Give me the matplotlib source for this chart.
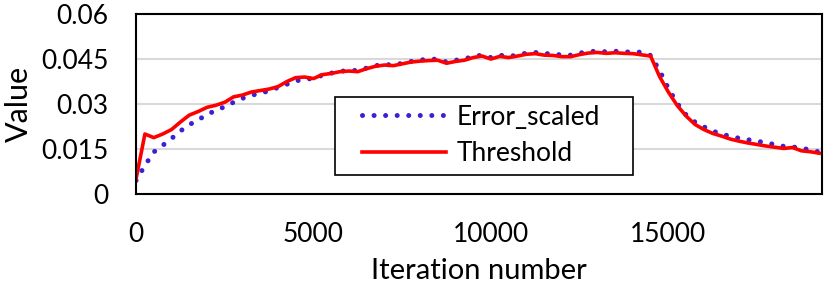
import numpy as np
import matplotlib
matplotlib.use('Agg')
import matplotlib.pyplot as plt
from matplotlib.patches import Rectangle

# iteration numbers (every 250)
iterations = np.arange(0, 19251, 250)

error_scaled = [
  0.0045, 0.0095, 0.0140, 0.0162, 0.0185, 0.0210, 0.0231, 0.0247, 0.0265, 0.0279,
  0.0291, 0.0306, 0.0319, 0.0329, 0.0336, 0.0344, 0.0355, 0.0366, 0.0377, 0.0383,
  0.0385, 0.0396, 0.0403, 0.0409, 0.0412, 0.0412, 0.0420, 0.0428, 0.0432, 0.0430,
  0.0436, 0.0442, 0.0447, 0.0449, 0.0450, 0.0440, 0.0446, 0.0450, 0.0459, 0.0463,
  0.0455, 0.0463, 0.0459, 0.0463, 0.0470, 0.0472, 0.0468, 0.0468, 0.0463, 0.0463,
  0.0470, 0.0474, 0.0477, 0.0474, 0.0476, 0.0474, 0.0473, 0.0473, 0.0462, 0.0412,
  0.0352, 0.0302, 0.0264, 0.0240, 0.0224, 0.0210, 0.0200, 0.0192, 0.0186, 0.0181,
  0.0176, 0.0171, 0.0165, 0.0159, 0.0157, 0.0153, 0.0147, 0.0140,
]

threshold = [
  0.0050, 0.0200, 0.0188, 0.0200, 0.0215, 0.0240, 0.0263, 0.0275, 0.0289, 0.0296,
  0.0306, 0.0324, 0.0330, 0.0340, 0.0345, 0.0350, 0.0358, 0.0375, 0.0388, 0.0390,
  0.0385, 0.0398, 0.0402, 0.0408, 0.0410, 0.0408, 0.0418, 0.0426, 0.0430, 0.0428,
  0.0434, 0.0440, 0.0443, 0.0445, 0.0446, 0.0436, 0.0442, 0.0446, 0.0455, 0.0460,
  0.0450, 0.0459, 0.0455, 0.0460, 0.0466, 0.0468, 0.0463, 0.0462, 0.0458, 0.0458,
  0.0465, 0.0470, 0.0472, 0.0469, 0.0471, 0.0469, 0.0468, 0.0464, 0.0460, 0.0392,
  0.0340, 0.0295, 0.0260, 0.0232, 0.0215, 0.0202, 0.0193, 0.0183, 0.0176, 0.0170,
  0.0165, 0.0160, 0.0156, 0.0152, 0.0155, 0.0144, 0.0141, 0.0136,
]

y_ticks = [0, 0.015, 0.03, 0.045, 0.06]
y_ticklabels = ['0', '0.015', '0.03', '0.045', '0.06']
x_ticks = [0, 5000, 10000, 15000]

plt.rcParams['font.family'] = ['Lato', 'DejaVu Sans']

fig = plt.figure(figsize = (8.3, 2.87), dpi = 100)
ax = fig.add_axes([0.1639, 0.324, 0.8265, 0.627])

ax.plot(iterations, error_scaled, color = '#3d1fd6', lw = 3.6,
        linestyle = (0, (0.01, 2.3)), dash_capstyle = 'round', label = 'Error_scaled')
ax.plot(iterations, threshold, color = '#ff0000', lw = 2.6, label = 'Threshold')

ax.set_xlim(0, 19330)
ax.set_ylim(0, 0.06)
ax.set_yticks(y_ticks)
ax.set_yticklabels(y_ticklabels)
ax.set_xticks(x_ticks)
ax.tick_params(length = 0, labelsize = 19, pad = 20)
ax.tick_params(axis = 'y', pad = 20)
ax.grid(axis = 'y', color = '#d9d9d9', lw = 1.5)
ax.set_axisbelow(True)
for s in ax.spines.values():
  s.set_linewidth(1.5)
  s.set_color('black')

ax.set_xlabel('Iteration number', fontsize = 21, labelpad = 8)
ax.set_ylabel('Value', fontsize = 22, labelpad = 6)

# legend box drawn separately so the entries can sit inset like the original
box = Rectangle((0.29, 0.106), 0.434, 0.433, transform = ax.transAxes, facecolor = 'white',
                edgecolor = 'black', lw = 1.2, zorder = 5)
ax.add_patch(box)
leg = ax.legend(loc = 'center left', bbox_to_anchor = (0.329, 0.325), frameon = False,
                fontsize = 19, handlelength = 3.2, borderpad = 0, borderaxespad = 0,
                labelspacing = 0.45, handletextpad = 0.4)
leg.set_zorder(6)

plt.savefig('out.png', dpi = 100)
